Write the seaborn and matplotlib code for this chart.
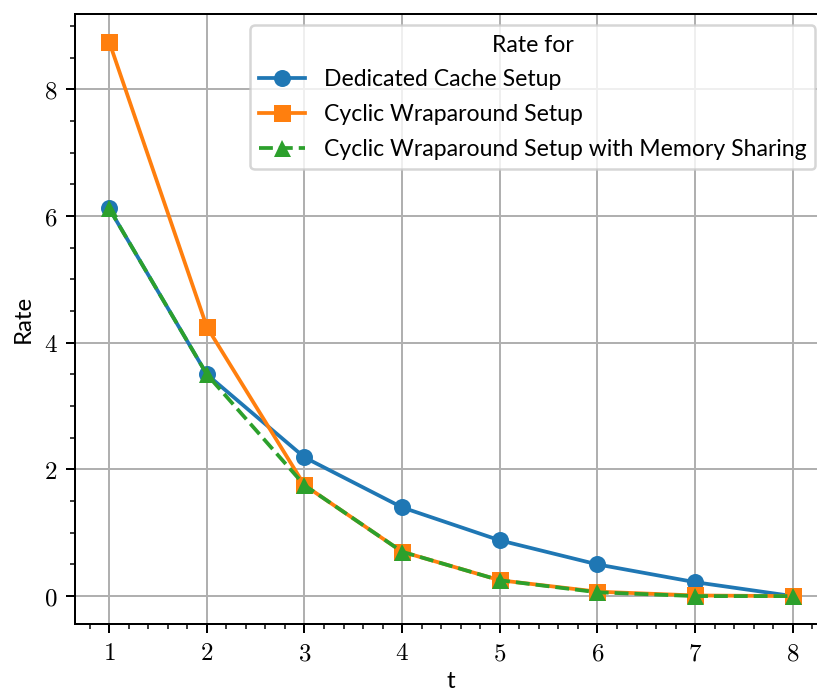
import pandas as pd
import numpy as np
import matplotlib
matplotlib.use('Agg')
import matplotlib.pyplot as plt
from matplotlib.ticker import AutoMinorLocator, FuncFormatter
import seaborn as sb

# dados
t = [1, 2, 3, 4, 5, 6, 7, 8]
dedicated = [6.12, 3.50, 2.19, 1.40, 0.88, 0.50, 0.22, 0.0]
cyclic = [8.75, 4.25, 1.75, 0.70, 0.25, 0.07, 0.01, 0.0]
cyclic_mem = [6.12, 3.50, 1.75, 0.70, 0.25, 0.06, 0.0, 0.0]
nomes = ['Dedicated Cache Setup', 'Cyclic Wraparound Setup',
         'Cyclic Wraparound Setup with Memory Sharing']

df = pd.DataFrame({
    't': t * 3,
    'Rate': dedicated + cyclic + cyclic_mem,
    'Rate for': [nomes[0]] * 8 + [nomes[1]] * 8 + [nomes[2]] * 8,
})

plt.rcParams['font.family'] = ['Lato', 'DejaVu Sans']
plt.rcParams['mathtext.fontset'] = 'cm'
plt.rcParams['font.size'] = 9.6

# figura pequena com dpi alto (como no original)
fig = plt.figure(figsize=(817 / 180, 691 / 180), dpi=180)
ax = fig.add_axes([0.0918, 0.097, 0.9204, 0.8828])

sb.lineplot(data=df, x='t', y='Rate', hue='Rate for', style='Rate for',
            palette=['C0', 'C1', 'C2'], markers=['o', 's', '^'],
            dashes=[(None, None), (None, None), (3.7, 1.6)],
            markersize=6.8, linewidth=1.5, markeredgewidth=0, ax=ax)

ax.grid(True, color='#b0b0b0', linewidth=0.8)
ax.set_axisbelow(True)
ax.xaxis.set_minor_locator(AutoMinorLocator())
ax.yaxis.set_minor_locator(AutoMinorLocator())
fmt = FuncFormatter(lambda v, p: r'$%d$' % v)
ax.xaxis.set_major_formatter(fmt)
ax.yaxis.set_major_formatter(fmt)
ax.set_xticks(t)
ax.set_yticks([0, 2, 4, 6, 8])
ax.tick_params(labelsize=10)
ax.set_xlim(0.65, 8.35)
ax.set_ylim(-0.44, 9.19)
ax.set_xlabel('t', labelpad=2.5)

ax.legend(title='Rate for', loc='upper right', fontsize=9.2, title_fontsize=9.2,
          labelspacing=0.6)

plt.savefig('out.png', dpi=180)
